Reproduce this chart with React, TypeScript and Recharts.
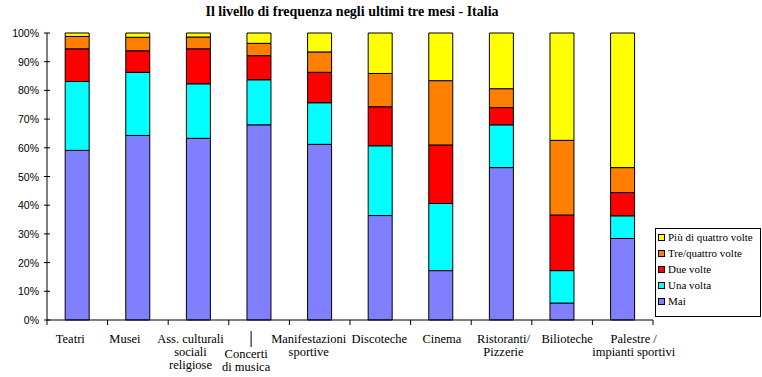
import { Bar, BarChart, Legend, XAxis, YAxis } from 'recharts'

const categories = [
  'Teatri',
  'Musei',
  'Ass. culturali sociali religiose',
  'Concerti di musica',
  'Manifestazioni sportive',
  'Discoteche',
  'Cinema',
  'Ristoranti/ Pizzerie',
  'Bilioteche',
  'Palestre / impianti sportivi',
]

// righe delle etichette come nel grafico originale
const labelLines = [
  ['Teatri'],
  ['Musei'],
  ['Ass. culturali', 'sociali', 'religiose'],
  ['Concerti', 'di musica'],
  ['Manifestazioni', 'sportive'],
  ['Discoteche'],
  ['Cinema'],
  ['Ristoranti/', 'Pizzerie'],
  ['Bilioteche'],
  ['Palestre /', 'impianti sportivi'],
]

const mai = [59.1, 64.3, 63.3, 68.0, 61.2, 36.4, 17.2, 53.1, 5.9, 28.4]
const unaVolta = [24.0, 22.0, 19.0, 15.7, 14.5, 24.3, 23.4, 14.9, 11.3, 7.9]
const dueVolte = [11.4, 7.5, 12.2, 8.4, 10.6, 13.6, 20.4, 6.0, 19.4, 8.1]
const treQuattro = [4.3, 4.7, 4.1, 4.3, 7.1, 11.6, 22.4, 6.6, 26.0, 8.7]
const piuDiQuattro = [1.2, 1.5, 1.4, 3.6, 6.6, 14.1, 16.6, 19.4, 37.4, 46.9]

const yTicks = [0, 10, 20, 30, 40, 50, 60, 70, 80, 90, 100]

const series = [
  { key: 'mai', name: 'Mai', color: '#8080ff', values: mai },
  { key: 'una', name: 'Una volta', color: '#00ffff', values: unaVolta },
  { key: 'due', name: 'Due volte', color: '#ff0000', values: dueVolte },
  { key: 'tre', name: 'Tre/quattro volte', color: '#ff8000', values: treQuattro },
  { key: 'piu', name: 'Più di quattro volte', color: '#ffff00', values: piuDiQuattro },
]

const data = categories.map((name, i) => {
  const row: Record<string, string | number> = { name }
  series.forEach((s) => (row[s.key] = s.values[i]))
  return row
})

const W = 762
const H = 377
const PLOT_LEFT = 47
const PLOT_RIGHT = 653
const PLOT_TOP = 33
const PLOT_BOTTOM = 320
const BAND = (PLOT_RIGHT - PLOT_LEFT) / categories.length
const SERIF = '"Liberation Serif", "Times New Roman", serif'

// spostamenti orizzontali delle etichette (Excel le sfalsava un po')
const LABEL_DX = [-7, -13, -8, -13, -11, -1, 1, 2, 5, 11]

function XTick(props: any) {
  const { x, y, payload } = props
  const i = payload.index
  const lines = labelLines[i] ?? [payload.value]
  const drop = i === 3 ? 15 : 0
  return (
    <g>
      <line x1={x - BAND / 2} x2={x - BAND / 2} y1={y} y2={y + 5} stroke="#000" />
      {i === categories.length - 1 && (
        <line x1={x + BAND / 2} x2={x + BAND / 2} y1={y} y2={y + 5} stroke="#000" />
      )}
      {i === 3 && <line x1={x - 8} x2={x - 8} y1={y + 11} y2={y + 27} stroke="#000" />}
      {lines.map((l, k) => (
        <text
          key={k}
          x={x + LABEL_DX[i]}
          y={y + 23 + drop + k * 13}
          textAnchor="middle"
          fontFamily={SERIF}
          fontSize={12.5}
          fill="#000"
        >
          {l}
        </text>
      ))}
    </g>
  )
}

function YTick(props: any) {
  const { x, y, payload } = props
  return (
    <g>
      <line x1={x - 3} x2={x + 3} y1={y} y2={y} stroke="#000" />
      <text
        x={x - 8}
        y={y + 4}
        textAnchor="end"
        fontFamily='"Liberation Sans", Arial, sans-serif'
        fontSize={10.5}
        fill="#000"
      >
        {payload.value}%
      </text>
    </g>
  )
}

function LegendBox() {
  return (
    <div
      style={{
        border: '1px solid #000',
        background: '#fff',
        width: 104,
        height: 87,
        boxSizing: 'content-box',
        paddingTop: 0,
      }}
    >
      {[...series].reverse().map((s) => (
        <div
          key={s.key}
          style={{
            display: 'flex',
            alignItems: 'center',
            height: 16,
            paddingLeft: 2,
            fontFamily: SERIF,
            fontSize: 11,
            whiteSpace: 'nowrap',
            color: '#000',
          }}
        >
          <span
            style={{
              display: 'inline-block',
              width: 5,
              height: 5,
              border: '1px solid #000',
              background: s.color,
              marginRight: 3,
            }}
          />
          {s.name}
        </div>
      ))}
    </div>
  )
}

export default function App() {
  return (
    <div style={{ position: 'absolute', left: 0, top: 0, width: W, height: H, background: '#fff' }}>
      <div
        style={{
          position: 'absolute',
          left: 0,
          top: 3,
          width: 704,
          textAlign: 'center',
          fontFamily: SERIF,
          fontWeight: 'bold',
          fontSize: 14,
          lineHeight: '18px',
          color: '#000',
        }}
      >
        Il livello di frequenza negli ultimi tre mesi - Italia
      </div>
      <BarChart
        width={W}
        height={H}
        data={data}
        barCategoryGap="30%"
        margin={{ top: PLOT_TOP, right: W - PLOT_RIGHT, bottom: H - PLOT_BOTTOM - 57, left: 0 }}
      >
        <XAxis
          dataKey="name"
          height={57}
          interval={0}
          tickSize={0}
          tickMargin={0}
          tickLine={false}
          axisLine={{ stroke: '#000' }}
          tick={<XTick />}
        />
        <XAxis
          xAxisId="top"
          dataKey="name"
          orientation="top"
          height={0}
          tick={false}
          tickLine={false}
          axisLine={{ stroke: '#000' }}
        />
        <YAxis
          type="number"
          domain={[0, 100]}
          ticks={yTicks}
          width={PLOT_LEFT}
          tickSize={0}
          tickMargin={0}
          tickLine={false}
          axisLine={{ stroke: '#000' }}
          tick={<YTick />}
        />
        <YAxis
          yAxisId="right"
          orientation="right"
          type="number"
          domain={[0, 100]}
          width={0}
          tick={false}
          tickLine={false}
          axisLine={{ stroke: '#000' }}
        />
        {series.map((s) => (
          <Bar
            key={s.key}
            dataKey={s.key}
            name={s.name}
            stackId="a"
            fill={s.color}
            stroke="#000"
            strokeWidth={1}
            isAnimationActive={false}
          />
        ))}
        <Legend
          layout="horizontal"
          verticalAlign="middle"
          align="center"
          wrapperStyle={{ position: 'absolute', left: 655, top: 228, width: 106, height: 89 }}
          content={() => <LegendBox />}
        />
      </BarChart>
    </div>
  )
}
